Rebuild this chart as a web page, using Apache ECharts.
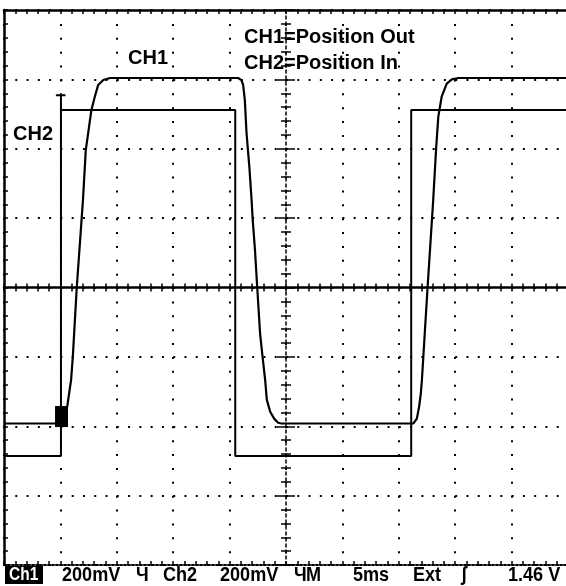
<!DOCTYPE html>
<html><head><meta charset="utf-8">
<script src="https://cdn.jsdelivr.net/npm/echarts@6/dist/echarts.min.js"></script>
<style>html,body{margin:0;padding:0;background:#fff}#c{width:566px;height:586px}</style>
</head><body><div id="c"></div>
<script>
// Data in screen divisions (x: -5..5, y: -4..4, centre = 0)
const ch1X = [-5, -3.95, -3.88, -3.81, -3.78, -3.71, -3.60, -3.55, -3.45, -3.39, -3.33, -3.24, -3.12,
  -0.85, -0.79, -0.76, -0.73, -0.70, -0.65, -0.61, -0.59, -0.55, -0.51, -0.46, -0.41, -0.37, -0.34, -0.28, -0.21, -0.14, -0.08,
  2.26, 2.32, 2.36, 2.39, 2.41, 2.51, 2.61, 2.66, 2.70, 2.76, 2.85, 2.94, 3.06, 5];
const ch1Y = [-1.96, -1.96, -1.72, -1.33, -1.00, 0.00, 1.26, 1.98, 2.56, 2.75, 2.92, 2.99, 3.02,
  3.02, 2.99, 2.92, 2.70, 2.23, 1.74, 1.26, 0.97, 0.54, 0.00, -0.66, -1.04, -1.33, -1.62, -1.79, -1.89, -1.95, -1.96,
  -1.96, -1.89, -1.72, -1.53, -1.33, 0.00, 1.26, 1.98, 2.46, 2.75, 2.94, 3.00, 3.02, 3.02];
const ch2X = [-5, -3.99, -3.99, -4.08, -3.91, -3.99, -3.99, -0.90, -0.90, 2.22, 2.22, 5];
const ch2Y = [-2.43, -2.43, 2.77, 2.77, 2.77, 2.77, 2.56, 2.56, -2.43, -2.43, 2.56, 2.56];
const ch1Marker = [-3.98, -1.86];

const traceLabels = ['CH1', 'CH2'];
const legendLines = ['CH1=Position Out', 'CH2=Position In'];
const footerBox = 'Ch1';
const footerTexts = ['200mV', 'Ч', 'Ch2', '200mV', 'Ч', 'M', '5ms', 'Ext', 'ʃ', '1.46 V'];
const footerPosX = [62, 136, 163, 220, 294, 306, 353, 413, 461, 508];

const zip = (xs, ys) => xs.map((x, i) => [x, ys[i]]);
const black = '#000';

function ax(extra, isX) {
  return Object.assign({
    type: 'value', min: isX ? -5 : -4, max: isX ? 5 : 4, interval: 1,
    axisLabel: { show: false }, splitLine: { show: false },
    axisTick: { show: false }, minorTick: { show: false },
    axisLine: { show: false }
  }, extra);
}
const tick = (len, w) => ({ show: true, inside: true, length: len, lineStyle: { color: black, width: w } });
const mtick = (len, w) => ({ show: true, splitNumber: 5, length: len, lineStyle: { color: black, width: w } });

const chart = echarts.init(document.getElementById('c'), null, { renderer: 'canvas' });

const labFont = 'bold 20px "Liberation Sans", Arial, sans-serif';
const footFont = 'bold 21px "Liberation Sans", Arial, sans-serif';
const graphics = [];
const txt = (t, x, y, font, fill, sx) => ({
  type: 'text', x: x, y: y, scaleX: sx || 1, z: 10,
  style: { text: t, x: 0, y: 0, font: font, fill: fill, textAlign: 'left', textVerticalAlign: 'middle' }
});
graphics.push(txt(traceLabels[0], 128, 58, labFont, black));
graphics.push(txt(traceLabels[1], 13, 134, labFont, black));
graphics.push(txt(legendLines[0], 244, 37, labFont, black));
graphics.push(txt(legendLines[1], 244, 63, labFont, black));
graphics.push({ type: 'rect', z: 9, shape: { x: 5, y: 566, width: 38, height: 18 }, style: { fill: black } });
graphics.push(txt(footerBox, 9, 575.5, 'bold 18px "Liberation Sans", Arial, sans-serif', '#fff', 0.86));
footerTexts.forEach((t, i) => {
  graphics.push(txt(t, footerPosX[i], 575.5, footFont, black, 0.86));
});

chart.setOption({
  backgroundColor: '#fff',
  animation: false,
  grid: { left: 4, top: 10, width: 564, height: 555, containLabel: false, outerBoundsMode: 'none' },
  xAxis: [
    ax({ position: 'bottom', axisLine: { show: true, onZero: true, onZeroAxisIndex: 0, lineStyle: { color: black, width: 2.5 } },
      axisTick: tick(4, 1.5), minorTick: mtick(4, 1.5),
      splitLine: { show: true, lineStyle: { color: black, width: 2, type: [2, 11.875] } } }, true),
    ax({ position: 'top', axisLine: { show: false, onZero: true, onZeroAxisIndex: 0 },
      axisTick: tick(4, 1.5), minorTick: mtick(4, 1.5) }, true),
    ax({ position: 'top', axisLine: { show: true, onZero: false, lineStyle: { color: black, width: 2.5 } },
      axisTick: tick(4, 1.5), minorTick: mtick(4, 1.5) }, true),
    ax({ position: 'bottom', axisLine: { show: true, onZero: false, lineStyle: { color: black, width: 2, type: [2, 2] } },
      axisTick: tick(4, 1.5), minorTick: mtick(4, 1.5) }, true)
  ],
  yAxis: [
    ax({ position: 'left', axisLine: { show: true, onZero: true, onZeroAxisIndex: 0, lineStyle: { color: black, width: 1.5, type: [3, 3] } },
      axisTick: tick(9, 1.5), minorTick: mtick(5, 1.5),
      splitLine: { show: true, lineStyle: { color: black, width: 2, type: [2, 9.28] } } }, false),
    ax({ position: 'right', axisLine: { show: false, onZero: true, onZeroAxisIndex: 0 },
      axisTick: tick(9, 1.5), minorTick: mtick(5, 1.5) }, false),
    ax({ position: 'left', axisLine: { show: true, onZero: false, lineStyle: { color: black, width: 2.5 } },
      axisTick: tick(4, 1.5), minorTick: mtick(4, 1.5) }, false)
  ],
  series: [
    { name: 'CH1', type: 'line', xAxisIndex: 0, yAxisIndex: 0, data: zip(ch1X, ch1Y), showSymbol: false, smooth: false,
      lineStyle: { color: black, width: 2.2 }, z: 5,
      markPoint: { symbol: 'rect', symbolSize: [13, 21], itemStyle: { color: black }, label: { show: false },
        data: [{ coord: ch1Marker }] } },
    { name: 'CH2', type: 'line', xAxisIndex: 0, yAxisIndex: 0, data: zip(ch2X, ch2Y), showSymbol: false, smooth: false,
      lineStyle: { color: black, width: 2 }, z: 5 }
  ],
  graphic: graphics
});
</script></body></html>
